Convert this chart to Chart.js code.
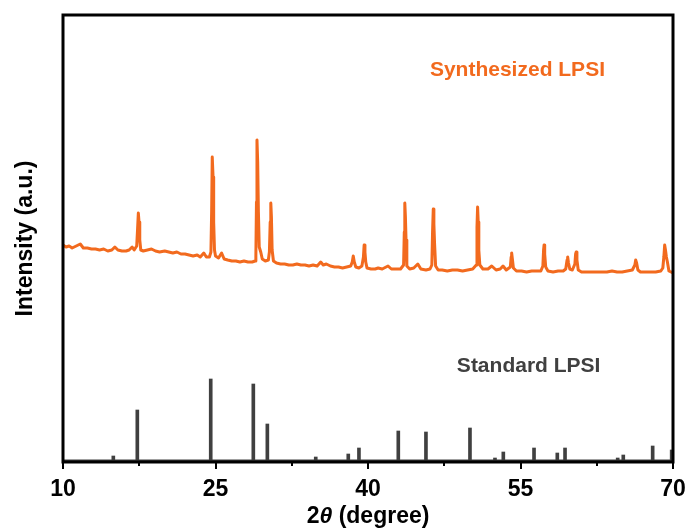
<!DOCTYPE html>
<html lang="en">
<head>
<meta charset="UTF-8">
<title>XRD LPSI</title>
<script src="https://cdn.jsdelivr.net/npm/chart.js"></script>
<style>
  html, body { margin: 0; padding: 0; background: #fff; }
  #xrd { display: block; }
</style>
</head>
<body>
<canvas id="xrd" width="691" height="532"></canvas>
<script>
// 2-theta positions (degree) and intensity of the synthesized sample
const synAngle = [
  10.0, 10.3, 10.6, 10.9, 11.3, 11.7, 12.0, 12.4, 12.8, 13.2, 13.6, 14.0,
  14.4, 14.8, 15.1, 15.4, 15.8, 16.2, 16.5, 16.8, 17.0, 17.25, 17.33, 17.41,
  17.48, 17.55, 17.65, 17.9, 18.3, 18.7, 19.1, 19.5, 20.0, 20.4, 20.8, 21.2,
  21.6, 22.0, 22.4, 22.8, 23.2, 23.5, 23.85, 24.1, 24.4, 24.55, 24.62, 24.68,
  24.76, 24.82, 24.9, 25.0, 25.3, 25.6, 25.85, 26.2, 26.6, 27.0, 27.4, 27.8,
  28.2, 28.6, 28.9, 28.97, 29.03, 29.08, 29.15, 29.22, 29.3, 29.45, 29.6, 29.9,
  30.2, 30.3, 30.38, 30.44, 30.5, 30.57, 30.7, 31.0, 31.4, 31.8, 32.2, 32.6,
  33.0, 33.4, 33.8, 34.2, 34.6, 35.0, 35.35, 35.6, 35.9, 36.3, 36.7, 37.1,
  37.5, 37.9, 38.3, 38.45, 38.55, 38.65, 38.8, 39.1, 39.4, 39.55, 39.62, 39.7,
  39.78, 39.9, 40.3, 40.7, 41.0, 41.4, 41.97, 42.3, 42.8, 43.2, 43.5, 43.57,
  43.62, 43.68, 43.74, 43.82, 44.1, 44.5, 44.9, 45.2, 45.7, 46.1, 46.28, 46.35,
  46.42, 46.48, 46.55, 46.65, 46.9, 47.3, 47.8, 48.3, 48.8, 49.3, 49.8, 50.3,
  50.65, 50.72, 50.78, 50.84, 50.9, 51.0, 51.3, 51.8, 52.17, 52.6, 53.0, 53.28,
  53.6, 54.0, 54.08, 54.13, 54.2, 54.3, 54.6, 55.1, 55.6, 56.1, 56.6, 57.0,
  57.2, 57.27, 57.32, 57.38, 57.48, 57.7, 58.2, 58.7, 59.2, 59.45, 59.58, 59.64,
  59.72, 59.85, 60.1, 60.35, 60.42, 60.48, 60.55, 60.68, 61.0, 61.5, 62.0, 62.5,
  63.0, 63.5, 64.0, 64.5, 65.0, 65.5, 66.0, 66.25, 66.33, 66.42, 66.55, 66.8,
  67.3, 67.8, 68.3, 68.8, 69.0, 69.1, 69.18, 69.26, 69.35, 69.45, 69.6, 70.0
];
const synIntensity = [
  217, 215, 216, 214, 216, 218, 214, 214, 213, 213, 212, 213,
  211, 212, 215, 212, 211, 211, 212, 215, 212, 216, 232, 249,
  240, 222, 212, 211, 212, 213, 211, 210, 211, 210, 209, 210,
  208, 208, 207, 206, 207, 205, 209, 205, 205, 210, 250, 305,
  285, 240, 212, 206, 204, 209, 203, 202, 201, 201, 200, 201,
  200, 200, 201, 206, 260, 322, 300, 250, 215, 210, 203, 201,
  202, 210, 240, 259, 245, 212, 201, 199, 198, 198, 197, 197,
  198, 197, 197, 196, 197, 196, 200, 197, 198, 196, 195, 195,
  194, 195, 196, 200, 206, 200, 195, 194, 196, 205, 217, 210,
  200, 194, 193, 193, 194, 193, 196, 193, 193, 193, 197, 230,
  259, 245, 222, 196, 193, 194, 198, 193, 192, 193, 197, 230,
  253, 238, 218, 196, 192, 192, 191, 192, 192, 191, 192, 193,
  197, 235, 255, 240, 212, 197, 193, 193, 196, 192, 193, 196,
  192, 195, 205, 209, 203, 194, 191, 191, 190, 191, 191, 191,
  196, 212, 217, 208, 195, 191, 190, 191, 191, 193, 202, 205,
  199, 193, 192, 198, 208, 210, 202, 192, 190, 190, 190, 190,
  190, 190, 191, 190, 190, 191, 192, 197, 202, 199, 192, 190,
  190, 190, 190, 191, 194, 205, 217, 212, 205, 200, 191, 189
];

// standard LPSI reference lines
const stdAngle = [14.95, 17.31, 24.53, 28.72, 30.10, 34.86, 38.06, 39.11, 42.98, 45.70,
                  50.03, 52.49, 53.31, 56.33, 58.62, 59.38, 64.56, 65.11, 68.0, 69.87];
const stdIntensity = [6, 52, 83, 78, 38, 5, 8, 14, 31, 30,
                      34, 4, 10, 14, 9, 14, 4, 7, 16, 12];
const stdBaseAngle = [10, 70];
const stdBaseIntensity = [1.5, 1.5];

const majorTicks = [10, 25, 40, 55, 70];
const minorTicks = [17.5, 32.5, 47.5, 62.5];

const ORANGE = '#f26a1e';
const GREY = '#404040';
const FONT = '"Liberation Sans", Arial, sans-serif';

const toPoints = (xs, ys) => xs.map((x, i) => ({ x: x, y: ys[i] }));

// frame, ticks, labels and the x title (italic theta) drawn on top
const plotDecor = {
  id: 'plotDecor',
  afterDraw(chart) {
    const { ctx, chartArea: a, scales: { x, y } } = chart;
    ctx.save();
    ctx.strokeStyle = '#000';
    ctx.lineWidth = 3;
    ctx.strokeRect(a.left, a.top, a.right - a.left, a.bottom - a.top);

    ctx.lineWidth = 2;
    ctx.beginPath();
    majorTicks.forEach(v => {
      const px = Math.round(x.getPixelForValue(v));
      ctx.moveTo(px, a.bottom);
      ctx.lineTo(px, a.bottom + 7);
    });
    minorTicks.forEach(v => {
      const px = Math.round(x.getPixelForValue(v));
      ctx.moveTo(px, a.bottom);
      ctx.lineTo(px, a.bottom + 4);
    });
    ctx.stroke();

    ctx.textAlign = 'center';
    ctx.textBaseline = 'middle';
    ctx.font = 'bold 21px ' + FONT;
    ctx.fillStyle = ORANGE;
    ctx.fillText('Synthesized LPSI', x.getPixelForValue(54.7), y.getPixelForValue(392));
    ctx.fillStyle = GREY;
    ctx.fillText('Standard LPSI', x.getPixelForValue(55.8), y.getPixelForValue(96));

    // x axis title: 2θ (degree)
    const parts = [
      { t: '2', f: 'bold 23px ' + FONT },
      { t: 'θ', f: 'italic bold 23px ' + FONT },
      { t: ' (degree)', f: 'bold 23px ' + FONT }
    ];
    let total = 0;
    parts.forEach(p => { ctx.font = p.f; p.w = ctx.measureText(p.t).width; total += p.w; });
    let cx = (a.left + a.right) / 2 - total / 2;
    ctx.textAlign = 'left';
    ctx.fillStyle = '#000';
    parts.forEach(p => {
      ctx.font = p.f;
      ctx.fillText(p.t, cx, 517);
      cx += p.w;
    });
    ctx.restore();
  }
};

new Chart(document.getElementById('xrd'), {
  type: 'line',
  data: {
    datasets: [
      {
        label: 'Synthesized LPSI',
        data: toPoints(synAngle, synIntensity),
        borderColor: ORANGE,
        borderWidth: 3,
        borderJoinStyle: 'round',
        pointRadius: 0,
        tension: 0
      },
      {
        label: 'Standard baseline',
        data: toPoints(stdBaseAngle, stdBaseIntensity),
        borderColor: GREY,
        borderWidth: 2,
        pointRadius: 0
      },
      {
        type: 'bar',
        label: 'Standard LPSI',
        data: toPoints(stdAngle, stdIntensity),
        backgroundColor: GREY,
        barThickness: 3
      }
    ]
  },
  options: {
    responsive: false,
    animation: false,
    layout: { padding: { top: 15, right: 18, left: 0, bottom: 0 } },
    plugins: { legend: { display: false }, tooltip: { enabled: false } },
    scales: {
      x: {
        type: 'linear',
        min: 10, max: 70,
        offset: false,
        grid: { display: false, drawTicks: false },
        border: { display: false },
        ticks: {
          stepSize: 15,
          padding: 14,
          color: '#000',
          font: { family: FONT, size: 23, weight: 'bold' }
        },
        afterFit: s => { s.height = 70; s.paddingLeft = 0; s.paddingRight = 0; }
      },
      y: {
        min: 0, max: 447,
        grid: { display: false, drawTicks: false },
        border: { display: false },
        ticks: { display: false },
        title: {
          display: true,
          text: 'Intensity (a.u.)',
          color: '#000',
          padding: { top: 12, bottom: 0 },
          font: { family: FONT, size: 23, weight: 'bold' }
        },
        afterFit: s => { s.width = 63; }
      }
    }
  },
  plugins: [plotDecor]
});
</script>
</body>
</html>
